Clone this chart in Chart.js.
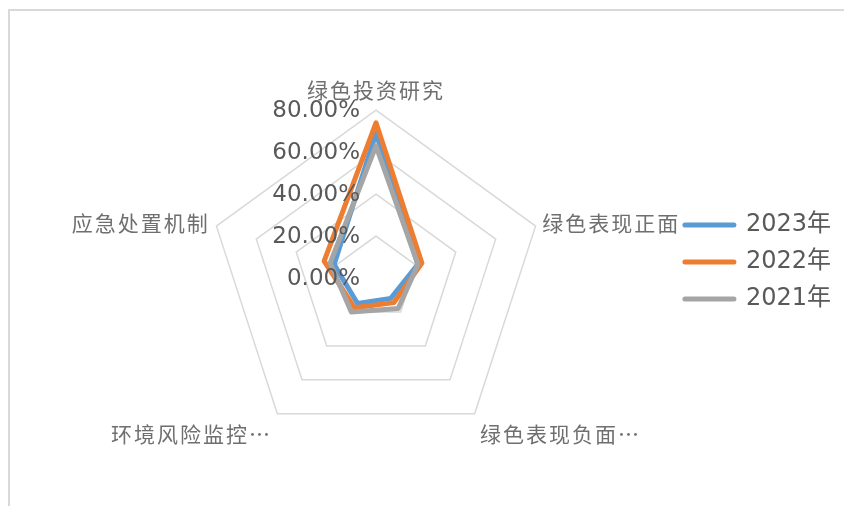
<!DOCTYPE html>
<html>
<head>
<meta charset="utf-8">
<script src="https://cdn.jsdelivr.net/npm/chart.js@4.4.1/dist/chart.umd.min.js"></script>
<style>
  html, body { margin: 0; padding: 0; background: #fff; }
  #wrap { position: relative; width: 844px; height: 506px; overflow: hidden; }
  #frame { position: absolute; left: 8px; top: 9px; width: 900px; height: 600px; border: 2px solid #d9d9d9; box-sizing: border-box; }
  canvas { position: absolute; left: 0; top: 0; }
</style>
</head>
<body>
<div id="wrap">
  <div id="frame"></div>
  <canvas id="radar" width="844" height="506"></canvas>
</div>
<script>
let categories = ["绿色投资研究", "绿色表现正面", "绿色表现负面…", "环境风险监控…", "应急处置机制"];
// values in percent
let y2023 = [69, 21, 12, 15, 21];
let y2022 = [74, 23, 14.5, 17.5, 26];
let y2021 = [63, 21, 18, 20, 23];
let tickMin = 0;
let tickMax = 80;
let tickStep = 20;

// per-label tweaks so the labels sit like the original
let labelPad = [8, 7, 9, 9, 7];
let labelLineH = [1.2, 0.1, 1.2, 1.2, 0.1];

const cjk = "'Noto Sans CJK SC', 'DejaVu Sans', sans-serif";
const latin = "'DejaVu Sans', 'Noto Sans CJK SC', sans-serif";

// letter spacing for the category labels only, while drawing
const spacing = {
  id: "spacing",
  afterLayout(chart) {
    const lg = chart.legend;
    if (lg && !lg._plainText) {
      const draw = lg.draw.bind(lg);
      lg.draw = (area) => {
        const old = chart.ctx.letterSpacing;
        chart.ctx.letterSpacing = "0px";
        draw(area);
        chart.ctx.letterSpacing = old;
      };
      lg._plainText = true;
    }
  },
  beforeDraw(chart) { chart.ctx.letterSpacing = "2px"; },
  afterDraw(chart) { chart.ctx.letterSpacing = "0px"; }
};

// value axis labels, left of the vertical spoke like Excel
const tickLabels = {
  id: "tickLabels",
  afterDatasetsDraw(chart) {
    const s = chart.scales.r;
    const ctx = chart.ctx;
    ctx.save();
    ctx.letterSpacing = "0px";
    ctx.font = "23px " + latin;
    ctx.fillStyle = "#595959";
    ctx.textAlign = "right";
    ctx.textBaseline = "middle";
    s.ticks.forEach((t) => {
      const y = s.yCenter - s.getDistanceFromCenterForValue(t.value);
      ctx.fillText(t.value.toFixed(2) + "%", s.xCenter - 16, y + 1);
    });
    ctx.restore();
  }
};

new Chart("radar", {
  type: "radar",
  data: {
    labels: categories,
    datasets: [
      { label: "2023年", data: y2023, borderColor: "#5B9BD5", order: 3 },
      { label: "2022年", data: y2022, borderColor: "#ED7D31", order: 2 },
      { label: "2021年", data: y2021, borderColor: "#A5A5A5", order: 1 },
    ].map((d) => Object.assign(d, {
      borderWidth: 5,
      borderJoinStyle: "round",
      borderCapStyle: "round",
      fill: false,
      pointRadius: 0,
      pointHoverRadius: 0,
      tension: 0,
    })),
  },
  options: {
    responsive: false,
    animation: false,
    devicePixelRatio: 1,
    layout: { padding: { left: 80, right: 3, top: 61, bottom: 43 } },
    plugins: {
      tooltip: { enabled: false },
      legend: {
        position: "right",
        labels: {
          usePointStyle: true,
          pointStyleWidth: 49,
          padding: 13,
          color: "#595959",
          font: { family: latin, size: 24 },
          generateLabels(chart) {
            return chart.data.datasets.map((d, i) => ({
              text: d.label,
              fontColor: "#595959",
              fillStyle: d.borderColor,
              strokeStyle: d.borderColor,
              lineWidth: 5,
              lineCap: "round",
              pointStyle: "line",
              rotation: 0,
              hidden: false,
              datasetIndex: i,
            }));
          },
        },
      },
    },
    scales: {
      r: {
        min: tickMin,
        max: tickMax,
        ticks: { stepSize: tickStep, display: false },
        grid: { color: "#d9d9d9", lineWidth: 1.5 },
        angleLines: { display: false },
        pointLabels: {
          color: "#6f6f6f",
          padding: (c) => labelPad[c.index],
          font: (c) => ({ family: cjk, size: 21, lineHeight: labelLineH[c.index] }),
        },
      },
    },
  },
  plugins: [spacing, tickLabels],
});
</script>
</body>
</html>
